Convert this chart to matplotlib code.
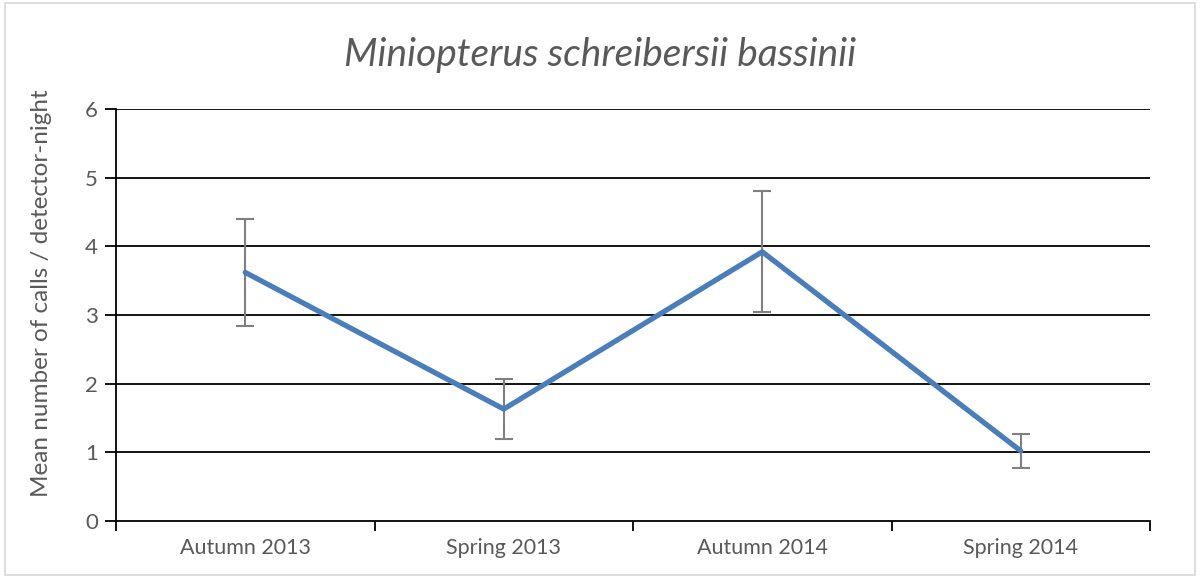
import matplotlib
matplotlib.use('Agg')
import matplotlib.pyplot as plt
from matplotlib.patches import Rectangle
import numpy as np

seasons = ["Autumn 2013", "Spring 2013", "Autumn 2014", "Spring 2014"]
mean_calls = [3.62, 1.63, 3.92, 1.02]
err_calls = [0.78, 0.44, 0.88, 0.25]
yticks = [0, 1, 2, 3, 4, 5, 6]

plt.rcParams['font.family'] = ['Lato', 'DejaVu Sans']

def main():
  fig = plt.figure(figsize=(12.01, 5.77), dpi=100)
  ax = fig.add_axes([116/1201, 1-521/577, (1150-116)/1201, (521-109)/577])

  # light frame round the whole chart
  fig.patches.append(Rectangle((5/1201, 2/577), 1190/1201, 572/577, transform=fig.transFigure,
                               fill=False, edgecolor='#d9d9d9', linewidth=1.2))

  x = np.arange(len(seasons))
  for y in yticks[1:]:
    ax.axhline(y, color='black', linewidth=1.3, zorder=1)

  ax.errorbar(x, mean_calls, yerr=err_calls, fmt='none', ecolor='#7f7f7f',
              elinewidth=1.5, capsize=6.5, capthick=1.5, zorder=2)
  ax.plot(x, mean_calls, color='#4a7ebb', linewidth=3.8, solid_capstyle='round', zorder=3)

  ax.set_xlim(-0.5, len(seasons) - 0.5)
  ax.set_ylim(0, 6)
  ax.set_yticks(yticks)
  ax.set_xticks(x)
  ax.set_xticklabels(seasons, fontsize=15.5, color='#595959')
  ax.set_xticks(np.arange(-0.5, len(seasons)), minor=True)
  ax.tick_params(axis='x', which='major', length=0, pad=12)
  ax.tick_params(axis='x', which='minor', length=7, width=1.3, color='black', direction='out')
  ax.tick_params(axis='y', length=8, width=1.3, color='black', direction='out',
                 labelsize=16, labelcolor='#595959', pad=5)

  for s in ['top', 'right']:
    ax.spines[s].set_visible(False)
  for s in ['left', 'bottom']:
    ax.spines[s].set_linewidth(1.3)
    ax.spines[s].set_color('black')

  ax.set_ylabel("Mean number of calls / detector-night", fontsize=17.5, color='#595959')
  ax.yaxis.set_label_coords(-0.062, 0.553)
  fig.text(0.5, 1-55/577, "Miniopterus schreibersii bassinii", ha='center', va='center',
           fontsize=28, style='italic', color='#595959')

  fig.savefig('out.png', dpi=100)

if __name__ == "__main__":
  main()
